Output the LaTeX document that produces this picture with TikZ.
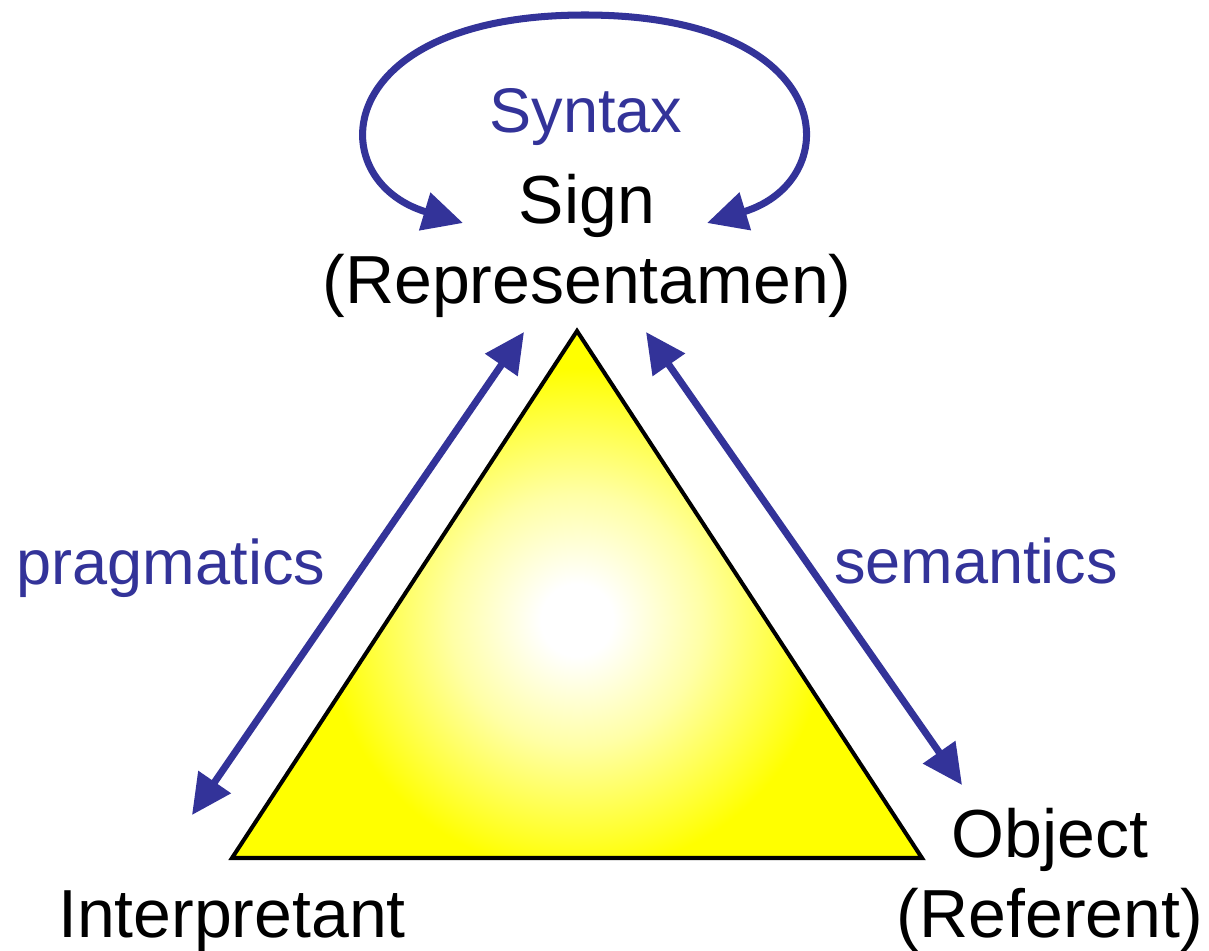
\documentclass[tikz,border=0pt]{standalone}
\usepackage{fontspec}
\setmainfont{Liberation Sans}
\usepackage{xcolor}
\usetikzlibrary{arrows.meta, positioning}
\definecolor{relblue}{RGB}{51, 51, 153}
\definecolor{triyellow}{RGB}{255, 255, 0}
\definecolor{paleyellow}{RGB}{255, 255, 166}
\pgfdeclareradialshading{glow}{\pgfpoint{0cm}{0cm}}{color(0bp)=(white); color(2bp)=(white); color(7bp)=(paleyellow); color(14bp)=(triyellow); color(50bp)=(triyellow)}

\begin{document}
\begin{tikzpicture}[
    x=0.02cm, y=-0.02cm,
    term/.style={inner sep=0pt, anchor=base, font=\fontsize{38.7}{46}\selectfont, text=black},
    rel/.style={inner sep=0pt, anchor=base, font=\fontsize{35.9}{43}\selectfont, text=relblue},
    arrow/.style={line width=4pt, color=relblue, {Triangle[length=22.8pt, width=21.6pt]}-{Triangle[length=22.8pt, width=21.6pt]}}
]
\useasboundingbox (0,0) rectangle (1209,950);

% triangle
\coordinate (top) at (577,331);
\coordinate (left) at (232,858);
\coordinate (right) at (922,858);
\begin{scope}
    \clip (top) -- (left) -- (right) -- cycle;
    \shade[shading=glow] (577,620) circle (9cm);
\end{scope}
\draw[line width=2.3pt, line join=miter] (top) -- (left) -- (right) -- cycle;

% labels
\node[term] (sign) at (587,223) {Sign};
\node[term] (repr) at (587,303) {(Representamen)};
\node[term] (interp) at (232,937) {Interpretant};
\node[term] (object) at (1050,857) {Object};
\node[term] (referent) at (1050,937) {(Referent)};
\node[rel] (syntax) at (586,132) {Syntax};
\node[rel] (prag) at (171,584) {pragmatics};
\node[rel] (sem) at (976,583) {semantics};

% relations
\coordinate (synl) at (463,223);
\coordinate (synr) at (707,223);
\coordinate (pragtop) at (524,332);
\coordinate (pragbot) at (192,815);
\coordinate (semtop) at (646,332);
\coordinate (sembot) at (962,785);

\draw[arrow] (synl) .. controls (320,180) and (330,15) .. (585,15)
    .. controls (840,15) and (848,180) .. (synr);
\draw[arrow] (pragbot) -- (pragtop);
\draw[arrow] (semtop) -- (sembot);
\end{tikzpicture}
\end{document}
